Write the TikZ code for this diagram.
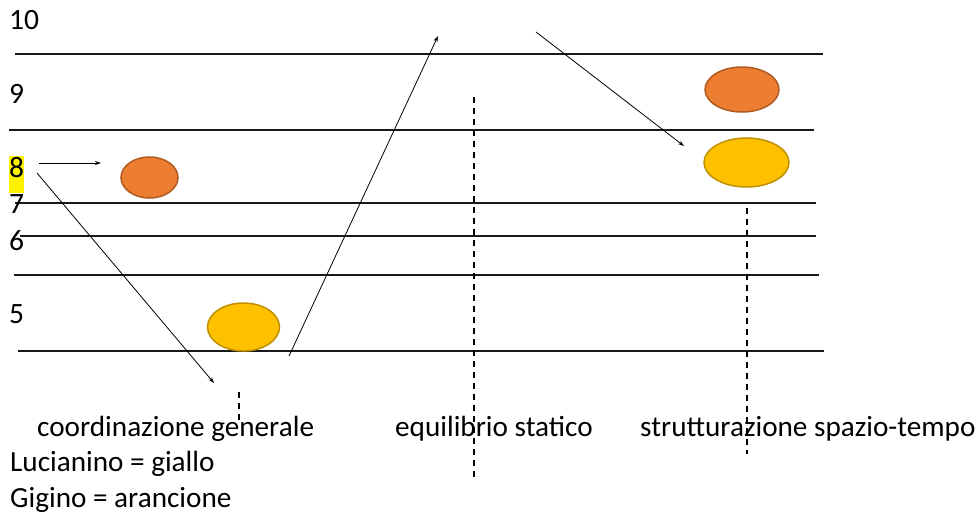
\documentclass[tikz,border=0pt]{standalone}
\usepackage{fontspec}
\setmainfont{Carlito}
\usetikzlibrary{shapes.geometric,arrows.meta}
\definecolor{orfill}{HTML}{ED7D31}
\definecolor{ordraw}{HTML}{AE5A21}
\definecolor{yefill}{HTML}{FFC000}
\definecolor{yedraw}{HTML}{BF9000}
\begin{document}
\begin{tikzpicture}[x=1pt,y=-1pt,
  hline/.style={line width=1.2pt, draw=black!90},
  lbl/.style={anchor=base west, inner sep=0pt, font=\fontsize{29.5}{30}\selectfont},
  txt/.style={anchor=base west, inner sep=0pt, font=\fontsize{29.2}{30}\selectfont},
  orov/.style={ellipse, draw=ordraw, fill=orfill, line width=1.5pt, inner sep=0pt},
  yeov/.style={ellipse, draw=yedraw, fill=yefill, line width=1.5pt, inner sep=0pt},
  conn/.style={-{Stealth[length=6pt,width=4pt]}, line width=0.8pt},
  dsh/.style={dash pattern=on 6pt off 5pt, line width=1.4pt}]
\useasboundingbox (0,0) rectangle (976,515);
% horizontal lines
\draw[hline] (15,54) coordinate (h1a) -- (823,54) coordinate (h1b);
\draw[hline] (9,130) coordinate (h2a) -- (814,130) coordinate (h2b);
\draw[hline] (15,203) coordinate (h3a) -- (816,203) coordinate (h3b);
\draw[hline] (20,236) coordinate (h4a) -- (816,236) coordinate (h4b);
\draw[hline] (14,275) coordinate (h5a) -- (819,275) coordinate (h5b);
\draw[hline] (18,351) coordinate (h6a) -- (824,351) coordinate (h6b);
% row labels
\node[lbl] (l10) at (9,29) {10};
\node[lbl] (l9) at (9,103) {9};
\node[lbl, fill=yellow, text height=21pt, text depth=16pt] (l8) at (9,177) {8};
\node[lbl] (l7) at (9,213) {7};
\node[lbl] (l6) at (9,250) {6};
\node[lbl] (l5) at (9,323) {5};
% ellipses
\node[orov, minimum width=57pt, minimum height=41pt] (o1) at (149.5,177.5) {};
\node[yeov, minimum width=72pt, minimum height=48pt] (y1) at (243.5,327) {};
\node[orov, minimum width=74pt, minimum height=45pt] (o2) at (742,89.5) {};
\node[yeov, minimum width=85pt, minimum height=49pt] (y2) at (746.5,162.5) {};
% arrows
\coordinate (a1s) at (39,163); \coordinate (a1e) at (101,163);
\coordinate (a2s) at (37,173); \coordinate (a2e) at (214,383);
\coordinate (a3s) at (289,356); \coordinate (a3e) at (438,36);
\coordinate (a4s) at (536,32); \coordinate (a4e) at (684,146);
\draw[conn] (a1s) -- (a1e);
\draw[conn] (a2s) -- (a2e);
\draw[conn] (a3s) -- (a3e);
\draw[conn] (a4s) -- (a4e);
% dashed lines
\coordinate (d1s) at (239,392); \coordinate (d1e) at (239,424);
\coordinate (d2s) at (474,97); \coordinate (d2e) at (474,478);
\coordinate (d3s) at (747,208); \coordinate (d3e) at (747,454);
\draw[dsh] (d1s) -- (d1e);
\draw[dsh] (d2s) -- (d2e);
\draw[dsh] (d3s) -- (d3e);
% texts
\node[txt] (t1) at (37,436) {coordinazione generale};
\node[txt] (t2) at (395,436) {equilibrio statico};
\node[txt] (t3) at (640,436) {strutturazione spazio-tempo};
\node[txt] (t4) at (10,471) {Lucianino = giallo};
\node[txt] (t5) at (10,507) {Gigino = arancione};
\end{tikzpicture}
\end{document}
